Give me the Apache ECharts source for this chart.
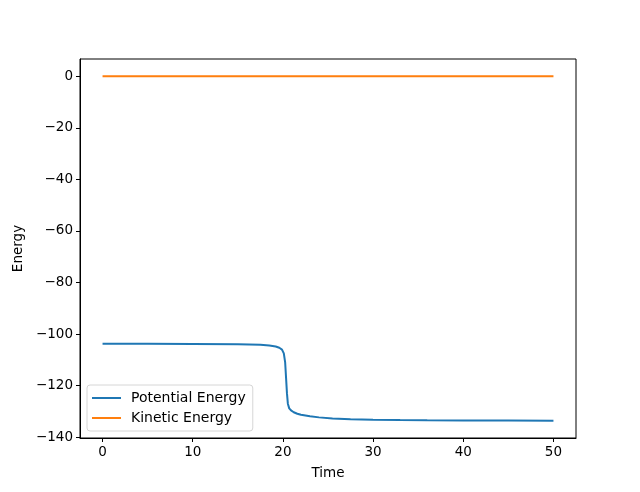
<!DOCTYPE html>
<html lang="en">
<head>
    <meta charset="UTF-8">
    <title>Energy vs Time</title>
    <script src="https://cdn.jsdelivr.net/npm/echarts@6.0.0/dist/echarts.min.js"></script>
    <style>
        html, body { margin: 0; padding: 0; background: #fff; }
    </style>
</head>
<body>
    <div id="main" style="width: 640px;height:492px;"></div>
    <script>
        // data
        const peTime = [0, 5, 10, 15, 17.5, 18.5, 19.2, 19.6, 19.9, 20.1, 20.25, 20.35, 20.45, 20.55, 20.7, 20.9, 21.2, 21.6, 22, 23, 24, 25.5, 27.5, 30, 33, 36, 40, 45, 50];
        const potential = [-103.7, -103.75, -103.8, -103.9, -104.1, -104.4, -104.8, -105.3, -106.0, -107.5, -111, -117, -123, -127, -128.8, -129.6, -130.3, -130.9, -131.3, -131.9, -132.3, -132.7, -133.0, -133.2, -133.35, -133.45, -133.5, -133.55, -133.6];
        const keTime = [0, 10, 20, 30, 40, 50];
        const kinetic = [0, 0, 0, 0, 0, 0];
        const xTicks = [0, 10, 20, 30, 40, 50];
        const yTicks = [-140, -120, -100, -80, -60, -40, -20, 0];

        const font = 'DejaVu Sans';
        const minus = (v) => String(v).replace('-', '\u2212');

        const myChart = echarts.init(document.getElementById('main'));

        let option = {
            animation: false,
            textStyle: { fontFamily: font },
            grid: {
                left: 80, right: 64, top: 59, bottom: 54,
                show: true, borderColor: '#000', borderWidth: 1, backgroundColor: '#fff'
            },
            legend: {
                orient: 'vertical',
                left: 87, top: 385,
                data: ['Potential Energy', 'Kinetic Energy'],
                icon: 'rect',
                itemWidth: 29, itemHeight: 2, itemGap: 6,
                padding: [6, 7, 6, 5],
                backgroundColor: '#fff',
                borderColor: '#d6d6d6', borderWidth: 1, borderRadius: 3,
                textStyle: { fontFamily: font, fontSize: 14, color: '#000', padding: [0, 0, 0, 5] }
            },
            xAxis: {
                type: 'value',
                min: -2.5, max: 52.5,
                name: 'Time', nameLocation: 'middle', nameGap: 28,
                nameTextStyle: { fontFamily: font, fontSize: 13.5, color: '#000' },
                axisLine: { onZero: false, lineStyle: { color: '#000', width: 1 } },
                axisTick: { length: 4, lineStyle: { color: '#000' }, customValues: xTicks },
                axisLabel: { customValues: xTicks, color: '#000', fontSize: 13.5, margin: 7, formatter: minus },
                splitLine: { show: false }
            },
            yAxis: {
                type: 'value',
                min: -140.3, max: 6.7,
                name: 'Energy', nameLocation: 'middle', nameGap: 55,
                nameTextStyle: { fontFamily: font, fontSize: 13.5, color: '#000' },
                axisLine: { show: true, onZero: false, lineStyle: { color: '#000', width: 1 } },
                axisTick: { show: true, length: 4, lineStyle: { color: '#000' }, customValues: yTicks },
                axisLabel: { customValues: yTicks, color: '#000', fontSize: 13.5, margin: 7, formatter: minus },
                splitLine: { show: false }
            },
            series: [
                {
                    name: 'Potential Energy',
                    type: 'line',
                    showSymbol: false,
                    color: '#1f77b4',
                    lineStyle: { width: 2 },
                    data: peTime.map((t, i) => [t, potential[i]])
                },
                {
                    name: 'Kinetic Energy',
                    type: 'line',
                    showSymbol: false,
                    color: '#ff7f0e',
                    lineStyle: { width: 2 },
                    data: keTime.map((t, i) => [t, kinetic[i]])
                }
            ]
        };

        myChart.setOption(option);
    </script>
</body>
</html>
